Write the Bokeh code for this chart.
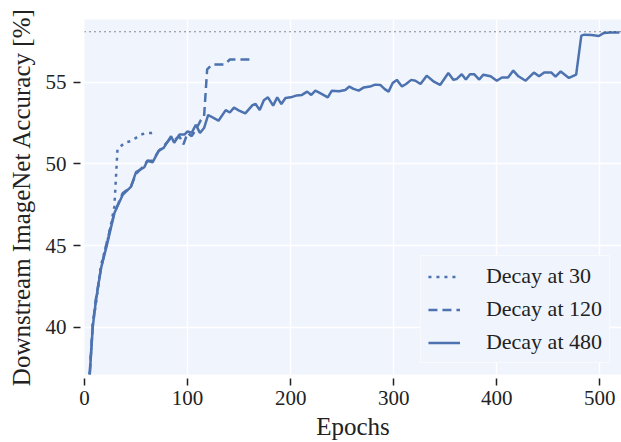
from bokeh.plotting import figure
from bokeh.models import Range1d, Span, FixedTicker, Legend, LegendItem
from bokeh.embed import file_html
from bokeh.resources import INLINE

# ---- data ----
ep_30 = [5, 8, 11, 16, 22, 26, 29, 32, 39, 45, 50, 55, 60, 65, 70]
acc_30 = [37.1, 40.2, 41.4, 43.8, 45.2, 46.4, 47.4, 50.9, 51.3, 51.4, 51.6, 51.8, 51.9, 51.9, 52.0]

ep_120 = [5, 8, 11, 16, 22, 29, 37, 45, 50, 58, 61, 66, 72, 77, 84, 88, 92, 96, 100, 104,
          108, 113, 116, 119, 124, 130, 136, 141, 150, 160]
acc_120 = [37.1, 40.1, 41.7, 43.6, 45.3, 47.0, 48.2, 48.6, 49.4, 49.9, 50.2, 50.2, 50.8, 51.1,
           51.6, 51.5, 51.7, 51.2, 51.9, 51.7, 52.1, 52.7, 52.9, 55.8, 56.1, 56.1, 56.1, 56.4,
           56.4, 56.4]

ep_480 = [5, 8, 11, 16, 22, 29, 37, 45, 50, 58, 61, 66, 72, 77, 84, 87, 92, 97, 100, 104,
          108, 112, 116, 120, 130, 137, 141, 145, 150, 156, 163, 166, 170, 174, 178, 183, 187,
          191, 195, 200, 206, 211, 216, 220, 224, 230, 236, 240, 247, 253, 257, 261, 266, 271,
          277, 282, 287, 291, 295, 299, 303, 308, 312, 317, 321, 326, 332, 339, 345, 353, 358,
          361, 366, 370, 374, 378, 383, 387, 394, 400, 405, 411, 416, 421, 428, 436, 441, 446,
          453, 457, 462, 470, 477, 482, 485, 492, 499, 504, 510, 519]
acc_480 = [37.0, 40.0, 41.6, 43.6, 45.1, 47.0, 48.1, 48.6, 49.5, 49.8, 50.2, 50.1, 50.8, 51.0,
           51.7, 51.3, 51.8, 51.8, 52.0, 51.9, 52.4, 51.9, 52.2, 53.0, 52.65, 53.3, 53.15, 53.45,
           53.27, 53.1, 53.6, 53.67, 53.3, 53.9, 54.08, 53.57, 54.08, 53.67, 54.04, 54.08, 54.2,
           54.23, 54.43, 54.23, 54.49, 54.29, 54.08, 54.49, 54.45, 54.53, 54.74, 54.6, 54.49,
           54.69, 54.74, 54.86, 54.84, 54.6, 54.43, 54.96, 55.15, 54.75, 54.9, 55.15, 55.1, 54.9,
           55.41, 55.04, 54.84, 55.57, 55.15, 55.2, 55.5, 55.17, 55.5, 55.5, 55.17, 55.47, 55.37,
           55.1, 55.3, 55.3, 55.72, 55.37, 55.1, 55.6, 55.37, 55.6, 55.6, 55.35, 55.67, 55.27,
           55.47, 57.86, 57.92, 57.9, 57.84, 58.03, 58.06, 58.06]

best_acc = 58.1
x_ticks = [0, 100, 200, 300, 400, 500]
y_ticks = [40, 45, 50, 55]
labels = ["Decay at 30", "Decay at 120", "Decay at 480"]

FONT = "Liberation Serif"
BLUE = "#4c72b0"
BG = "#f0f4fc"
INK = "#222222"

p = figure(width=621, height=442, output_backend="svg", toolbar_location=None,
           x_range=Range1d(0, 521), y_range=Range1d(37.1, 58.85),
           min_border_left=84, min_border_right=0, min_border_top=19, min_border_bottom=68)

p.background_fill_color = BG
p.border_fill_color = "white"
p.outline_line_color = None

for ax in (p.xaxis[0], p.yaxis[0]):
    ax.axis_line_color = None
    ax.major_tick_in = -4
    ax.major_tick_out = 11
    ax.major_tick_line_color = INK
    ax.major_tick_line_width = 1.5
    ax.minor_tick_line_color = None
    ax.major_label_text_font = FONT
    ax.major_label_text_font_size = "21px"
    ax.major_label_text_color = INK
    ax.axis_label_text_font = FONT
    ax.axis_label_text_font_size = "25px"
    ax.axis_label_text_font_style = "normal"
    ax.axis_label_text_color = INK

p.xaxis.ticker = FixedTicker(ticks=x_ticks)
p.yaxis.ticker = FixedTicker(ticks=y_ticks)
p.xaxis.axis_label = "Epochs"
p.yaxis.axis_label = "Downstream ImageNet Accuracy [%]"
p.xaxis.major_label_standoff = 5
p.yaxis.major_label_standoff = 7
p.xaxis.axis_label_standoff = 5
p.yaxis.axis_label_standoff = 8

p.grid.grid_line_color = "white"
p.grid.grid_line_width = 1.5
p.xgrid.ticker = FixedTicker(ticks=x_ticks)
p.ygrid.ticker = FixedTicker(ticks=y_ticks)

p.add_layout(Span(location=best_acc, dimension="width", line_color=INK,
                  line_dash="1 4", line_width=1.2))

r30 = p.line(ep_30, acc_30, line_color=BLUE, line_width=2.5, line_dash="3 5")
r120 = p.line(ep_120, acc_120, line_color=BLUE, line_width=2.5, line_dash="9 5")
r480 = p.line(ep_480, acc_480, line_color=BLUE, line_width=2.5)

legend = Legend(items=[LegendItem(label=labels[0], renderers=[r30]),
                       LegendItem(label=labels[1], renderers=[r120]),
                       LegendItem(label=labels[2], renderers=[r480])],
                location="bottom_right")
legend.background_fill_color = BG
legend.background_fill_alpha = 1.0
legend.border_line_color = "white"
legend.border_line_width = 1.5
legend.label_text_font = FONT
legend.label_text_font_size = "22px"
legend.label_text_color = INK
legend.glyph_width = 32
legend.glyph_height = 25
legend.label_height = 25
legend.label_standoff = 26
legend.spacing = 7
legend.padding = 7
legend.margin = 11
p.add_layout(legend, "center")

open("out.html", "w").write(file_html(p, INLINE))
